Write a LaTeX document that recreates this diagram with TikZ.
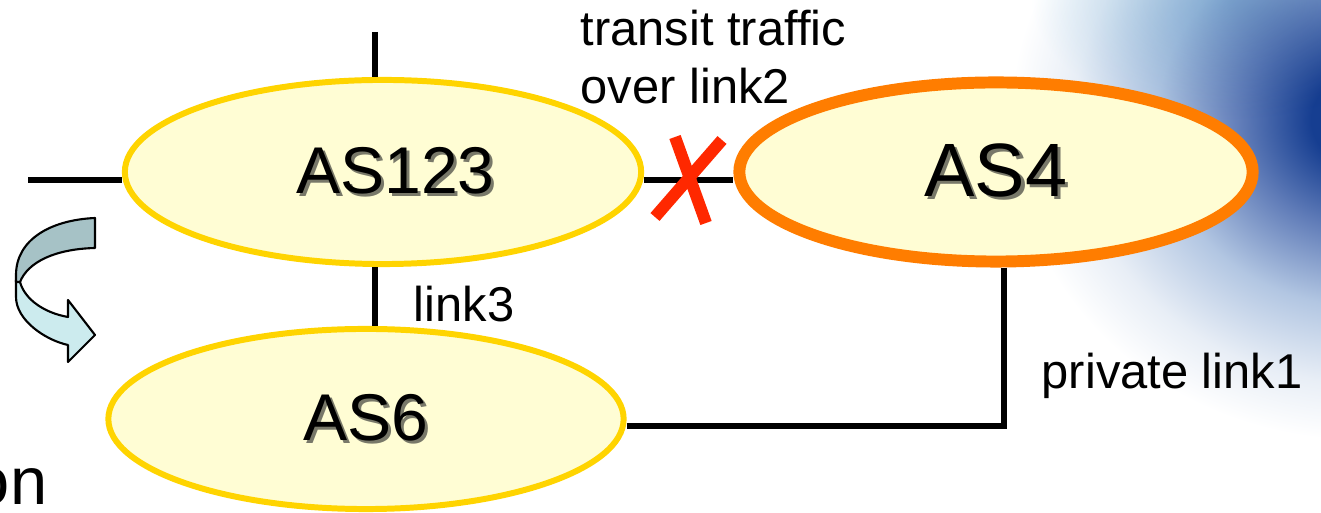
\documentclass[tikz,border=0pt]{standalone}
\usepackage{fontspec}
\setmainfont{Liberation Sans}
\usepackage{xcolor}
\usepackage{tikz}
\usetikzlibrary{shapes.geometric, positioning, calc}
\definecolor{asfill}{RGB}{255,253,212}
\definecolor{asyellow}{RGB}{255,212,0}
\definecolor{asorange}{RGB}{255,125,0}
\definecolor{cutred}{RGB}{255,40,0}
\definecolor{bandtop}{RGB}{166,194,198}
\definecolor{bandlow}{RGB}{204,235,238}
\definecolor{shadowgray}{RGB}{120,120,105}
\definecolor{glowdeep}{RGB}{22,62,145}
\definecolor{glowmid}{RGB}{96,124,184}
\definecolor{glowpale}{RGB}{178,198,226}
\definecolor{glowfaint}{RGB}{232,238,246}
\definecolor{streakblue}{RGB}{190,222,238}
\pgfdeclareradialshading{cornerglow}{\pgfpoint{0bp}{0bp}}{color(0bp)=(glowdeep); color(3.5bp)=(glowdeep); color(8.5bp)=(glowmid); color(14.5bp)=(glowpale); color(20.5bp)=(glowfaint); color(25bp)=(white); color(50bp)=(white)}
\pgfdeclareradialshading{topstreak}{\pgfpoint{0bp}{0bp}}{color(0bp)=(streakblue); color(10bp)=(streakblue!60!white); color(25bp)=(white); color(50bp)=(white)}
\newcommand{\shadowlabel}[1]{\makebox[0pt][l]{\hspace{0.9pt}\raisebox{-0.9pt}{\color{shadowgray}#1}}#1}
\tikzset{
    asnode/.style={
        ellipse,
        draw=asyellow,
        line width=1.7pt,
        fill=asfill,
        inner sep=0pt,
        font=\fontsize{18.8}{22}\selectfont
    },
    linkline/.style={
        draw=black,
        line width=1.7pt
    },
    cutmark/.style={
        draw=cutred,
        line width=3.4pt
    },
    lbl/.style={
        font=\fontsize{13.9}{16.5}\selectfont,
        inner sep=0pt
    },
    turnband/.style={
        draw=black,
        line width=0.6pt,
        line join=round
    }
}
\begin{document}
\begin{tikzpicture}[x=0.01cm, y=-0.01cm]
\useasboundingbox (0,0) rectangle (1321,513);
% background glow
\shade[shading=topstreak] (1030,-120) rectangle (1430,120);
\begin{scope}[blend mode=multiply]
\shade[shading=cornerglow] (1010,-200) rectangle (1710,440);
\end{scope}

% autonomous systems
\node[asnode, minimum width=5.16cm, minimum height=1.84cm] (as123) at (383,172) {\hspace{7pt}\shadowlabel{AS123}};
\node[asnode, draw=asorange, line width=3.4pt, minimum width=5.13cm, minimum height=1.79cm, font=\fontsize{21.5}{24}\selectfont] (as4) at (996,172) {\shadowlabel{AS4}};
\node[asnode, minimum width=5.15cm, minimum height=1.80cm] (as6) at (366,419) {\shadowlabel{AS6}};

% links
\coordinate (upstub) at (375,32);
\coordinate (leftstub) at (28,180);
\coordinate (bend) at (1004,426);
\draw[linkline] (upstub) -- (upstub |- as123.north);
\draw[linkline] (leftstub) -- (leftstub -| as123.west);
\draw[linkline] (as123.east |- leftstub) -- (as4.west |- leftstub);
\draw[linkline] (as123.south -| upstub) -- (as6.north -| upstub);
\draw[linkline] (as4.south -| bend) -- (bend) -- (bend -| as6.east);

% cut link2
\coordinate (cut) at (689,180);
\draw[cutmark] ($(cut)+(-14,-43)$) -- ($(cut)+(17,43)$);
\draw[cutmark] ($(cut)+(33,-40)$) -- ($(cut)+(-34,37)$);

% labels
\node[lbl, anchor=north west, align=left] (transit) at (580,9) {transit traffic\\over link2};
\node[lbl, anchor=base west] (link3) at (413,322) {link3};
\node[lbl, anchor=base west] (link1) at (1041,389) {private link1};
\node[lbl, font=\fontsize{19}{22}\selectfont, anchor=base east] (slidetext) at (48,505) {on};

% turn arrow
\filldraw[turnband, fill=bandlow] (16,280) -- (16,297) .. controls (16,320) and (45,340) .. (68,345) -- (68,362) -- (95,335) -- (68,300) -- (68,317) .. controls (45,313) and (25,300) .. (20,282) -- cycle;
\filldraw[turnband, fill=bandtop] (95,218) .. controls (50,220) and (16,240) .. (16,275) -- (16,282) -- (20,282) .. controls (28,262) and (55,249) .. (95,248) -- cycle;
\end{tikzpicture}
\end{document}
